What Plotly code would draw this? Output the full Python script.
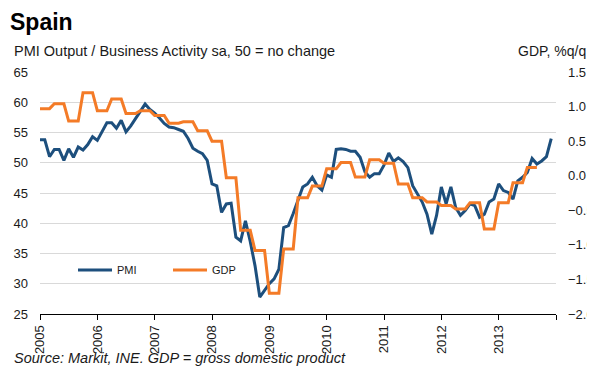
import numpy as np
import plotly.graph_objects as go

# ---------------- data ----------------
pmi = [53.8, 53.8, 51.0, 52.2, 52.2, 50.4, 52.3, 50.9, 52.6, 52.1, 53.0, 54.3,
       53.7, 55.2, 56.6, 56.6, 55.7, 57.0, 55.1, 56.1, 57.3, 58.6, 59.7, 58.8,
       58.2, 57.4, 56.5, 55.9, 55.8, 55.5, 55.2, 54.0, 52.4, 51.9, 51.5, 50.4,
       46.5, 46.2, 41.8, 43.2, 43.3, 37.7, 37.1, 40.4, 37.0, 33.0, 27.8, 28.9,
       30.0, 30.8, 32.4, 39.3, 39.6, 41.6, 43.8, 46.0, 46.5, 47.6, 46.2, 45.5,
       48.0, 47.6, 52.2, 52.3, 52.2, 51.9, 51.9, 50.9, 48.5, 47.6, 48.2, 48.2,
       49.6, 51.6, 50.2, 50.8, 50.2, 49.2, 46.2, 44.9, 43.5, 41.5, 38.2, 41.3,
       46.0, 43.2, 46.0, 42.6, 41.3, 42.1, 43.2, 42.9, 41.0, 41.5, 43.5, 44.0,
       46.5, 45.4, 45.1, 44.0, 47.0, 47.6, 48.4, 50.7, 49.8, 50.3, 51.0, 54.0]

gdp_quarterly = [0.97, 1.04, 0.79, 1.20,
                 0.94, 1.11, 0.90, 0.94,
                 0.87, 0.76, 0.78, 0.65,
                 0.50, -0.03, -0.79, -1.08,
                 -1.70, -1.06, -0.32, -0.15,
                 0.10, 0.19, -0.02, 0.23,
                 0.18, -0.12, -0.32, -0.38,
                 -0.43, -0.48, -0.39, -0.77,
                 -0.39, -0.10, 0.12]

year_ticks = [2005, 2006, 2007, 2008, 2009, 2010, 2011, 2012, 2013, 2014]
year_labels = ["2005", "2006", "2007", "2008", "2009", "2010", "2011", "2012", "2013", ""]

# ---------------- derived series ----------------
start_year = 2005
x_pmi = [start_year + i / 12 for i in range(len(pmi))]
gdp_monthly = list(np.repeat(gdp_quarterly, 3))
x_gdp = [start_year + i / 12 for i in range(len(gdp_monthly))]

BLUE = "#1D4F7D"
ORANGE = "#F47B27"
FONT = "Arial, Liberation Sans, sans-serif"
TXT = "#1a1a1a"

fig = go.Figure()
fig.add_trace(go.Scatter(x=x_pmi, y=pmi, name="PMI", mode="lines",
                         line=dict(color=BLUE, width=3), yaxis="y"))
fig.add_trace(go.Scatter(x=x_gdp, y=gdp_monthly, name="GDP", mode="lines",
                         line=dict(color=ORANGE, width=3), yaxis="y2"))

# page has an 8px body margin: figure starts at (8, 8) in the screenshot
OFF = 8
W, H = 595 - OFF, 373 - OFF
PL, PR, PT, PB = 40, 556, 72, 314          # plot area in screenshot pixels
L, T = PL - OFF, PT - OFF
R, B = W + OFF - PR, H + OFF - PB
pw, ph = PR - PL, PB - PT


def px(xp):
    return (xp - PL) / pw


def py(yp):
    return (PB - yp) / ph


fig.update_layout(
    width=W, height=H,
    margin=dict(l=L, r=R, t=T, b=B, pad=0),
    paper_bgcolor="white", plot_bgcolor="white",
    font=dict(family=FONT, size=13, color=TXT),
    showlegend=True,
    legend=dict(orientation="h", x=px(73), y=py(270), xanchor="left", yanchor="middle",
                bgcolor="rgba(0,0,0,0)", font=dict(size=11, color=TXT),
                entrywidth=46, entrywidthmode="pixels", itemwidth=34),
    xaxis=dict(range=[2005, 2014], tickvals=year_ticks, ticktext=year_labels,
               tickangle=-90, ticks="outside", ticklen=5, tickcolor="#000",
               showline=True, linecolor="#000", linewidth=1, showgrid=False,
               zeroline=False, automargin=False, tickfont=dict(size=13, color=TXT)),
    yaxis=dict(range=[25, 65], dtick=5, showgrid=True, gridcolor="#D9D9D9",
               gridwidth=1, showline=False, zeroline=False, ticks="", automargin=False,
               ticklabelstandoff=11, tickfont=dict(size=13, color=TXT)),
    yaxis2=dict(range=[-2.0, 1.5], dtick=0.5, tickformat=".1f", overlaying="y",
                side="right", showgrid=False, zeroline=False, showline=False,
                ticks="", automargin=False, ticklabelstandoff=11,
                tickfont=dict(size=13, color=TXT)),
    annotations=[
        dict(text="<b>Spain</b>", x=px(8.5), y=py(8.5), xref="paper", yref="paper",
             xanchor="left", yanchor="top", showarrow=False, borderpad=0,
             font=dict(size=23, color="#000")),
        dict(text="PMI Output / Business Activity sa, 50 = no change", x=px(12), y=py(51),
             xref="paper", yref="paper", xanchor="left", yanchor="middle",
             showarrow=False, font=dict(size=14.5, color=TXT)),
        dict(text="GDP, %q/q", x=px(588), y=py(51), xref="paper", yref="paper",
             xanchor="right", yanchor="middle", showarrow=False,
             font=dict(size=14, color=TXT)),
        dict(text="<i>Source: Markit, INE. GDP = gross domestic product</i>",
             x=px(12), y=py(358), xref="paper", yref="paper", xanchor="left",
             yanchor="middle", showarrow=False, font=dict(size=14.5, color=TXT)),
    ],
)

fig.write_html("out.html")
